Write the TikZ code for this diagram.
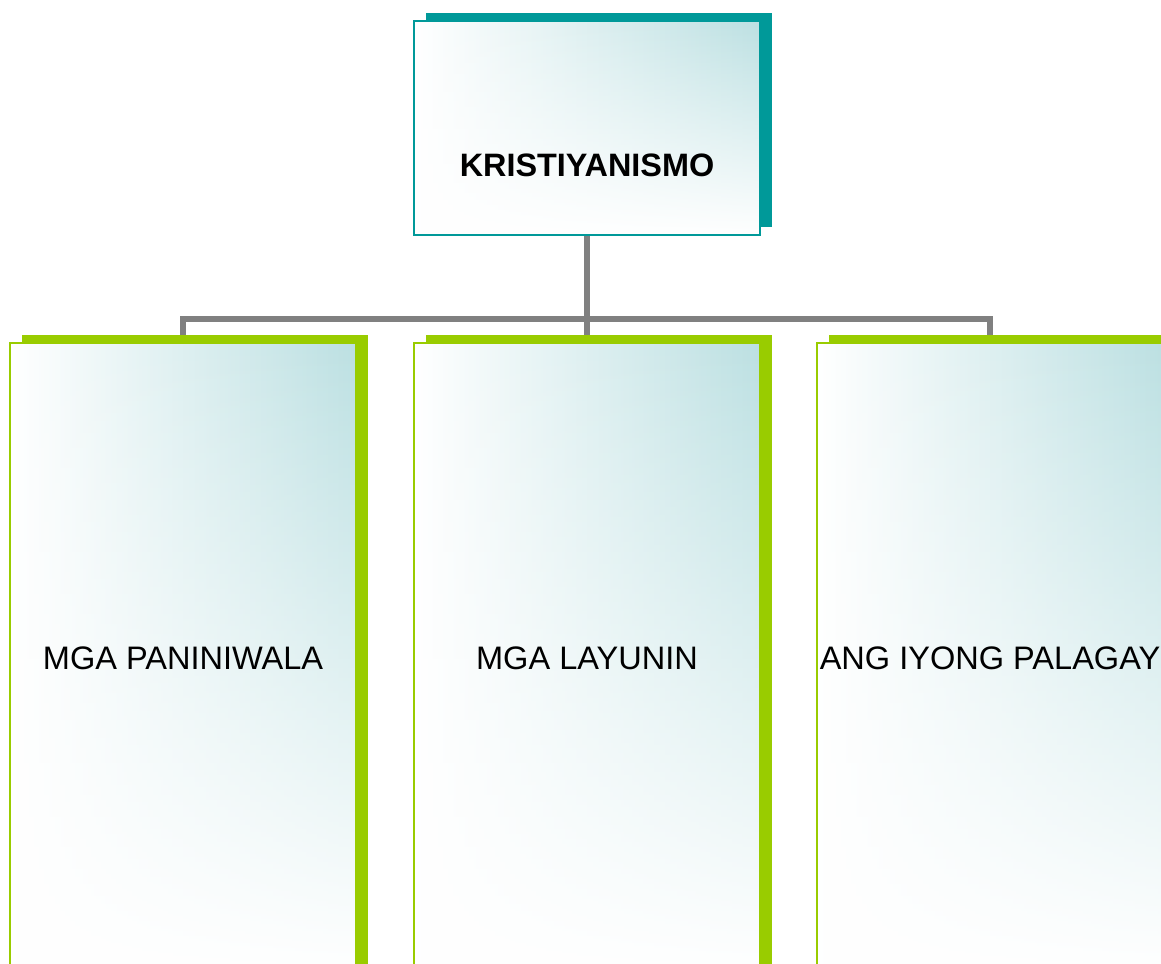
\documentclass[tikz,border=0pt]{standalone}
\usepackage{fontspec}
\setmainfont{Liberation Sans}
\usetikzlibrary{backgrounds,fadings,shadows}

\definecolor{tealdark}{HTML}{009999}
\definecolor{tealpale}{HTML}{BCE0E2}
\definecolor{limegreen}{HTML}{99CC00}
\definecolor{linkgray}{HTML}{808080}

\tikzset{
  cardfill/.style={path picture={
    \fill[left color=white, right color=tealpale]
      (path picture bounding box.south west) rectangle (path picture bounding box.north east);
    \fill[white, path fading=north]
      (path picture bounding box.south west) rectangle (path picture bounding box.north east);
  }},
  topcard/.style={rectangle, cardfill, draw=tealdark, line width=1.5pt, inner sep=0pt,
    minimum width=259pt, minimum height=161pt,
    drop shadow={fill=tealdark, opacity=1, shadow xshift=9pt, shadow yshift=6pt}},
  subcard/.style={rectangle, cardfill, draw=limegreen, line width=1.5pt, inner sep=0pt,
    minimum width=259pt, minimum height=472pt, font=\fontsize{24.4}{28}\selectfont,
    drop shadow={fill=limegreen, opacity=1, shadow xshift=9pt, shadow yshift=6pt}},
  link/.style={draw=linkgray, line width=4pt}
}

\begin{document}
\begin{tikzpicture}[x=0.75pt,y=-0.75pt]
\useasboundingbox (0,0) rectangle (1161,964);
\clip (0,0) rectangle (1161,964);

\node[topcard] (top) at (587,128) {};
\node[font=\bfseries\fontsize{24.3}{28}\selectfont] (title) at (587,165) {KRISTIYANISMO};

\node[subcard] (paniniwala) at (183,658) {MGA PANINIWALA};
\node[subcard] (layunin) at (587,658) {MGA LAYUNIN};
\node[subcard] (palagay) at (990,658) {ANG IYONG PALAGAY};

% tree lines behind the cards
\coordinate (bus) at (587,319);
\begin{pgfonlayer}{background}
\draw[link] (top.south) -- (bus);
\draw[link] (paniniwala.north) |- (bus) -| (palagay.north);
\draw[link] (bus) -- (layunin.north);
\end{pgfonlayer}
\end{tikzpicture}
\end{document}
